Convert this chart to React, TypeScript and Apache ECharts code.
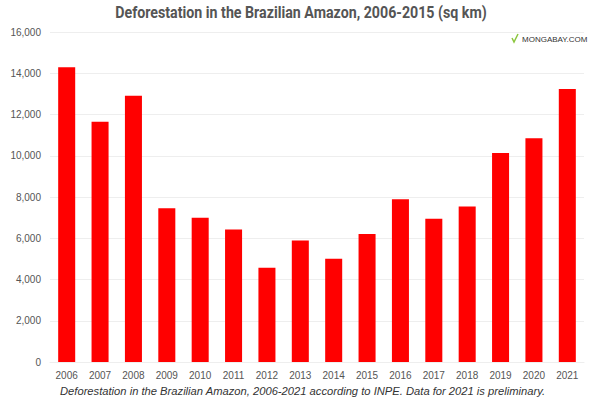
import React, { useEffect, useRef } from "react";
import * as echarts from "echarts";

const years = ["2006","2007","2008","2009","2010","2011","2012","2013","2014","2015","2016","2017","2018","2019","2020","2021"];
const deforestation = [14290, 11650, 12910, 7460, 7000, 6420, 4570, 5890, 5010, 6210, 7890, 6950, 7540, 10130, 10850, 13240];
const titleText = "Deforestation in the Brazilian Amazon, 2006-2015 (sq km)";
const captionText = "Deforestation in the Brazilian Amazon, 2006-2021 according to INPE. Data for 2021 is preliminary.";
const logoText = "MONGABAY.COM";

function measure(text: string, font: string): number {
  const c = document.createElement("canvas");
  const ctx = c.getContext("2d");
  if (!ctx) return 0;
  ctx.font = font;
  return ctx.measureText(text).width;
}

export default function App() {
  const ref = useRef<HTMLDivElement>(null);
  useEffect(() => {
    if (!ref.current) return;
    const chart = echarts.init(ref.current, null, { renderer: "svg" });
    const titleW = measure(titleText, "bold 16px Roboto") || 440;
    const titleScale = 372 / titleW;
    const capW = measure(captionText, "italic 10px 'Liberation Sans'") || 432;
    const capSize = Math.round((10 * 485 / capW) * 10) / 10;
    chart.setOption({
      animation: false,
      backgroundColor: "#ffffff",
      grid: { left: 50, right: 16, top: 32, bottom: 40, containLabel: false },
      xAxis: {
        type: "category",
        data: years,
        axisLine: { show: true, lineStyle: { color: "#eeeeee" } },
        axisTick: { show: false },
        axisLabel: { color: "#555555", fontSize: 10, fontFamily: "Liberation Sans", margin: 8 },
      },
      yAxis: {
        type: "value",
        min: 0,
        max: 16000,
        interval: 2000,
        axisLine: { show: false },
        axisTick: { show: false },
        splitLine: { lineStyle: { color: "#eeeeee" } },
        axisLabel: {
          color: "#555555",
          fontSize: 10,
          fontFamily: "Liberation Sans",
          margin: 9,
          formatter: (v: number) => v.toLocaleString("en-US"),
        },
      },
      series: [
        {
          type: "bar",
          data: deforestation,
          barWidth: "51%",
          itemStyle: { color: "#ff0000" },
        },
      ],
      graphic: [
        {
          type: "text",
          x: 301,
          y: 13,
          scaleX: titleScale,
          style: {
            text: titleText,
            fontSize: 16,
            fontWeight: "bold",
            fontFamily: "Roboto",
            fill: "#555555",
            textAlign: "center",
            textVerticalAlign: "middle",
          },
        },
        {
          type: "polyline",
          shape: { points: [[512, 38], [514, 42], [518, 34]] },
          style: { stroke: "#8cc63f", lineWidth: 1.5, fill: "none" },
        },
        {
          type: "text",
          x: 522,
          y: 39,
          style: {
            text: logoText,
            fontSize: 8,
            fontFamily: "Liberation Sans",
            fill: "#333333",
            textVerticalAlign: "middle",
          },
        },
        {
          type: "text",
          x: 60,
          y: 391,
          style: {
            text: captionText,
            fontSize: capSize,
            fontStyle: "italic",
            fontFamily: "Liberation Sans",
            fill: "#333333",
            textVerticalAlign: "middle",
          },
        },
      ],
    });
    return () => chart.dispose();
  }, []);
  return <div ref={ref} style={{ width: 600, height: 402, position: "absolute", left: 0, top: 0 }} />;
}
